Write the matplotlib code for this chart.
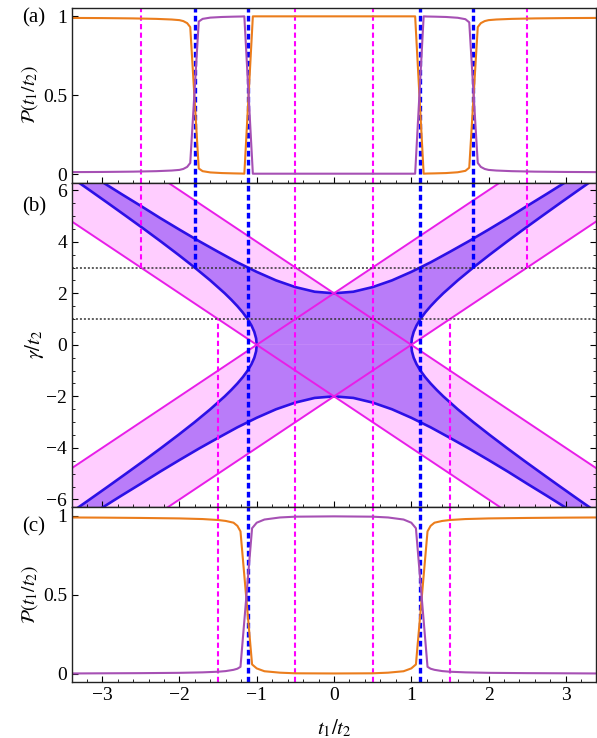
import numpy as np
import matplotlib
matplotlib.use("Agg")
import matplotlib.pyplot as plt
from matplotlib.ticker import MultipleLocator

plt.rcParams['font.family'] = ['Liberation Serif', 'DejaVu Serif']
plt.rcParams['mathtext.fontset'] = 'stix'
plt.rcParams['font.size'] = 12

# ---- data ----
# panel (a), gamma/t2 = 3
t_a = [-3.4, -3.0, -2.6, -2.3, -2.1, -2.0, -1.95, -1.9, -1.86, -1.75, -1.7, -1.6, -1.45, -1.3,
       -1.2, -1.16, -1.05, -0.5, 0.0, 0.5, 1.05, 1.16, 1.2, 1.3, 1.45, 1.6, 1.7, 1.75, 1.86,
       1.9, 1.95, 2.0, 2.1, 2.3, 2.6, 3.0, 3.4]
orange_a = [0.988, 0.987, 0.985, 0.982, 0.978, 0.974, 0.968, 0.955, 0.93, 0.035, 0.018, 0.01,
            0.006, 0.004, 0.003, 0.002, 0.998, 0.998, 0.998, 0.998, 0.998, 0.002, 0.003, 0.004,
            0.006, 0.011, 0.02, 0.04, 0.93, 0.955, 0.968, 0.974, 0.978, 0.982, 0.985, 0.987, 0.988]
purple_a = [0.012, 0.013, 0.015, 0.018, 0.022, 0.026, 0.032, 0.045, 0.07, 0.965, 0.982, 0.99,
            0.994, 0.996, 0.997, 0.998, 0.002, 0.002, 0.002, 0.002, 0.002, 0.998, 0.997, 0.996,
            0.994, 0.989, 0.98, 0.96, 0.07, 0.045, 0.032, 0.026, 0.022, 0.018, 0.015, 0.013, 0.012]

# panel (c), gamma/t2 = 1
t_c = [-3.4, -3.0, -2.5, -2.0, -1.7, -1.5, -1.4, -1.3, -1.25, -1.21, -1.06, -1.0, -0.9, -0.7,
       -0.5, 0.0, 0.5, 0.7, 0.9, 1.0, 1.06, 1.21, 1.25, 1.3, 1.4, 1.5, 1.7, 2.0, 2.5, 3.0, 3.4]
orange_c = [0.988, 0.987, 0.985, 0.982, 0.978, 0.972, 0.966, 0.955, 0.935, 0.90, 0.06, 0.035,
            0.017, 0.008, 0.004, 0.003, 0.004, 0.008, 0.017, 0.035, 0.06, 0.90, 0.935, 0.955,
            0.966, 0.972, 0.978, 0.982, 0.985, 0.987, 0.988]
purple_c = [0.003, 0.004, 0.005, 0.007, 0.01, 0.014, 0.018, 0.026, 0.033, 0.045, 0.92, 0.955,
            0.975, 0.988, 0.993, 0.995, 0.993, 0.988, 0.975, 0.955, 0.92, 0.045, 0.033, 0.026,
            0.018, 0.014, 0.01, 0.007, 0.005, 0.004, 0.003]

# panel (b): straight band edges (gamma at t = -3.6 and t = 3.6)
line_t = [-3.6, 3.6]
edge1 = [-5.2, 9.2]
edge2 = [-9.2, 5.2]
edge3 = [5.2, -9.2]
edge4 = [9.2, -5.2]

# outer hyperbola, upper right branch
outer_t = [0.0, 0.25, 0.5, 0.75, 1.0, 1.25, 1.5, 1.75, 2.0, 2.25, 2.5, 2.75, 3.0, 3.25, 3.5]
outer_g = [2.00, 2.06, 2.24, 2.50, 2.83, 3.20, 3.61, 4.03, 4.47, 4.92, 5.39, 5.85, 6.32, 6.80, 7.28]
# inner hyperbola, upper right branch
inner_g = [0.0, 0.25, 0.5, 0.75, 1.0, 1.25, 1.5, 1.75, 2.0, 2.5, 3.0, 3.5, 4.0, 4.5, 5.0, 5.5,
           6.0, 6.5, 7.0]
inner_t = [1.000, 1.008, 1.031, 1.068, 1.118, 1.179, 1.250, 1.329, 1.414, 1.601, 1.803, 2.016,
           2.236, 2.462, 2.693, 2.926, 3.162, 3.400, 3.640]

gamma_a = 3
gamma_c = 1
mag_a = [-2.5, -0.5, 0.5, 2.5]
blue_a = [-1.803, -1.118, 1.118, 1.803]
mag_c = [-1.5, -0.5, 0.5, 1.5]
blue_c = [-1.118, 1.118]

c_orange = '#eb7d1c'
c_purple = '#a650b4'
c_pink = '#ffcdff'
c_violet = '#b97cf9'
c_blue = '#2c10e6'
c_mag = '#e81ee8'

fig = plt.figure(figsize=(5.97, 7.38), dpi=100)
W, H = 597, 738
L, R = 72, 596
ax_a = fig.add_axes([L / W, 1 - 182.7 / H, (R - L) / W, 175.2 / H])
ax_b = fig.add_axes([L / W, 1 - 506.7 / H, (R - L) / W, 324 / H])
ax_c = fig.add_axes([L / W, 1 - 681.7 / H, (R - L) / W, 175 / H])

dash_m = dict(color='#ff00ff', lw=1.5, linestyle=(0, (2.5, 1.6)))
dash_b = dict(color='#0000ff', lw=2.4, linestyle=(0, (1.7, 1.0)))

# (a)
for x in mag_a:
    ax_a.axvline(x, **dash_m)
for x in blue_a:
    ax_a.axvline(x, **dash_b)
ax_a.plot(t_a, orange_a, color=c_orange, lw=1.5)
ax_a.plot(t_a, purple_a, color=c_purple, lw=1.5)
ax_a.set_ylim(-0.055, 1.054)

# (c)
for x in mag_c:
    ax_c.axvline(x, **dash_m)
for x in blue_c:
    ax_c.axvline(x, **dash_b)
ax_c.plot(t_c, orange_c, color=c_orange, lw=1.5)
ax_c.plot(t_c, purple_c, color=c_purple, lw=1.5)
ax_c.set_ylim(-0.049, 1.056)

# (b)
ax_b.fill_between(line_t, edge1, edge2, color=c_pink, lw=0)
ax_b.fill_between(line_t, edge3, edge4, color=c_pink, lw=0)
for sx in (1, -1):
    for sy in (1, -1):
        px = [0.0] + [sx * v for v in outer_t] + [sx * v for v in inner_t[::-1]]
        py = [0.0] + [sy * v for v in outer_g] + [sy * v for v in inner_g[::-1]]
        ax_b.fill(px, py, color=c_violet, lw=0)
for sx in (1, -1):
    for sy in (1, -1):
        ax_b.plot([sx * v for v in outer_t], [sy * v for v in outer_g], color=c_blue, lw=1.9)
        ax_b.plot([sx * v for v in inner_t], [sy * v for v in inner_g], color=c_blue, lw=1.9)
for e in (edge1, edge2, edge3, edge4):
    ax_b.plot(line_t, e, color=c_mag, lw=1.4)
for g in (gamma_a, gamma_c):
    ax_b.axhline(g, color='#333333', lw=1.1, linestyle=(0, (1.3, 1.3)))
for x in mag_a:
    lo = -8 if x in mag_c else gamma_a
    ax_b.vlines(x, lo, 8, **dash_m)
for x in mag_c:
    if x not in mag_a:
        ax_b.vlines(x, -8, gamma_c, **dash_m)
for x in blue_a:
    lo = -8 if x in blue_c else gamma_a
    ax_b.vlines(x, lo, 8, **dash_b)
ax_b.set_ylim(-6.28, 6.29)
ax_b.yaxis.set_major_locator(MultipleLocator(2))
ax_b.yaxis.set_minor_locator(MultipleLocator(0.5))
ax_b.tick_params(axis='y', which='both', right=True)

for ax in (ax_a, ax_b, ax_c):
    ax.set_xlim(-3.39, 3.39)
    ax.xaxis.set_major_locator(MultipleLocator(1))
    ax.xaxis.set_minor_locator(MultipleLocator(0.2))
    ax.tick_params(which='both', direction='in', labelsize=14)
    ax.tick_params(which='major', length=4.5, width=0.8)
    ax.tick_params(which='minor', length=2.5, width=0.6)
    for s in ax.spines.values():
        s.set_linewidth(1.0)
        s.set_color('#222222')
    ax.set_zorder(1)
for ax in (ax_a, ax_c):
    ax.set_yticks([0, 0.5, 1])
    ax.set_yticklabels(['0', '0.5', '1'])
    ax.set_ylabel(r'$\mathcal{P}(t_1/t_2)$', fontsize=14, labelpad=2)
ax_a.tick_params(labelbottom=False)
ax_b.tick_params(labelbottom=False)
ax_b.set_ylabel(r'$\gamma/t_2$', fontsize=15, labelpad=0)
ax_c.set_xticks([-3, -2, -1, 0, 1, 2, 3])
ax_c.set_xticklabels(['\u22123', '\u22122', '\u22121', '0', '1', '2', '3'])
ax_c.set_xlabel(r'$t_1/t_2$', fontsize=15, labelpad=10)

fig.text(22 / W, 1 - 18 / H, '(a)', fontsize=15, va='center')
fig.text(22 / W, 1 - 207 / H, '(b)', fontsize=15, va='center')
fig.text(22 / W, 1 - 527 / H, '(c)', fontsize=15, va='center')

fig.savefig('out.png', dpi=100)
